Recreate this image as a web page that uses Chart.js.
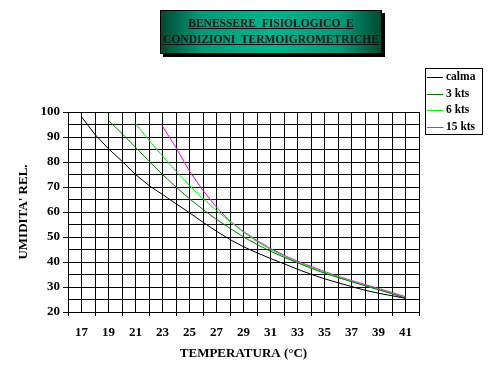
<!DOCTYPE html>
<html>
<head>
<meta charset="utf-8">
<script src="https://cdn.jsdelivr.net/npm/chart.js@4"></script>
<style>
  body { margin: 0; background: #fff; }
  #wrap { position: relative; width: 503px; height: 380px; }
  #titleBox {
    position: absolute; left: 160px; top: 10px; width: 220px; height: 38px;
    border: 1px solid #000;
    box-shadow: 3px 3px 0 #000;
    background: linear-gradient(to right, #004a30 0%, #009a78 18%, #00b48e 50%, #009a78 82%, #004a30 100%);
    font: bold 11.5px "Liberation Serif", "Times New Roman", serif;
    color: #111; text-align: center; line-height: 16px; padding-top: 4px; box-sizing: content-box;
  }
  #titleBox div { white-space: pre; text-decoration: underline; }
</style>
</head>
<body>
<div id="wrap">
  <canvas id="chart" width="503" height="380"></canvas>
  <div id="titleBox"><div>BENESSERE  FISIOLOGICO  E</div><div>CONDIZIONI  TERMOIGROMETRICHE</div></div>
</div>
<script>
// temperatures (°C)
const temperature = [17, 18, 19, 20, 21, 22, 23, 24, 25, 26, 27, 28, 29, 30, 31, 32, 33, 34, 35, 36, 37, 38, 39, 40, 41];

// relative humidity per wind speed (null = curve not drawn there)
const calma = [98.1, 91, 85.3, 80.3, 75, 70.6, 67, 63.3, 59.7, 55.9, 52.3, 49, 46.1, 43.7, 41.4, 39.3, 37.1, 35.1, 33.3, 31.7, 30.2, 28.7, 27.5, 26.5, 25.5];
const kts3 = [null, null, 96.6, 91.4, 85.9, 80.3, 75, 70, 65.3, 61, 57, 53.5, 50, 47, 44.3, 41.9, 39.7, 37.5, 35.5, 33.8, 32.1, 30.5, 28.9, 27.3, 25.5];
const kts6 = [null, null, null, null, 95.3, 88.7, 82.3, 76.3, 70.6, 65.3, 60.6, 56.1, 51.9, 48.2, 45, 42.3, 39.9, 37.8, 35.9, 34, 32.3, 30.6, 29, 27.4, 25.7];
const kts15 = [null, null, null, null, null, null, 94.3, 85.7, 76.3, 68.6, 61.9, 56.3, 52.2, 48.6, 45.4, 42.7, 40.3, 38.2, 36.2, 34.3, 32.6, 31, 29.4, 27.8, 26.1];

const seriesNames = ['calma', '3 kts', '6 kts', '15 kts'];
const seriesColors = ['#000000', '#008000', '#00ff00', '#ff00ff'];
const seriesValues = [calma, kts3, kts6, kts15];

const serif = '"Liberation Serif", "Times New Roman", serif';

function toPoints(values) {
    return temperature.map((t, i) => ({ x: t, y: values[i] }));
}

const datasets = seriesValues.map((vals, i) => ({
    label: seriesNames[i],
    data: toPoints(vals),
    borderColor: seriesColors[i],
    backgroundColor: seriesColors[i],
    borderWidth: 1,
    pointRadius: 0,
    tension: 0,
    fill: false
}));

// legend box drawn at the right, like the original
const boxLegend = {
    id: 'boxLegend',
    afterDraw(chart) {
        const ctx = chart.ctx;
        ctx.save();
        ctx.fillStyle = '#fff';
        ctx.fillRect(425, 68, 57, 66);
        ctx.strokeStyle = '#000';
        ctx.lineWidth = 1;
        ctx.strokeRect(425.5, 68.5, 57, 66);
        ctx.font = 'bold 11.5px ' + serif;
        ctx.textBaseline = 'middle';
        chart.data.datasets.forEach((ds, i) => {
            const y = Math.round(77 + i * 16.7) + 0.5;
            ctx.strokeStyle = ds.borderColor;
            ctx.beginPath();
            ctx.moveTo(427, y);
            ctx.lineTo(443, y);
            ctx.stroke();
            ctx.fillStyle = '#000';
            ctx.fillText(ds.label, 446, y);
        });
        ctx.restore();
    }
};

new Chart(document.getElementById('chart'), {
    type: 'line',
    data: { datasets: datasets },
    plugins: [boxLegend],
    options: {
        responsive: false,
        animation: false,
        layout: { padding: { top: 112, right: 84, left: 0, bottom: 0 } },
        plugins: {
            legend: { display: false },
            tooltip: { enabled: false }
        },
        scales: {
            x: {
                type: 'linear',
                min: 16,
                max: 42,
                afterFit: s => { s.height = 68; },
                ticks: {
                    stepSize: 1,
                    maxTicksLimit: 100,
                    autoSkip: false,
                    maxRotation: 0,
                    padding: 9,
                    color: '#000',
                    font: { family: serif, size: 13, weight: 'bold' },
                    callback: v => (v % 2 === 1 ? v : '')
                },
                grid: {
                    color: '#000',
                    lineWidth: 1,
                    tickLength: 4,
                    tickColor: c => (c.tick && c.tick.value % 2 === 0 ? '#000' : 'rgba(0,0,0,0)')
                },
                border: { color: '#000' },
                title: {
                    display: true,
                    text: 'TEMPERATURA (°C)',
                    color: '#000',
                    font: { family: serif, size: 13, weight: 'bold' },
                    padding: { top: 0, bottom: 19 }
                }
            },
            y: {
                min: 20,
                max: 100,
                afterFit: s => { s.width = 68; },
                ticks: {
                    stepSize: 5,
                    maxTicksLimit: 100,
                    autoSkip: false,
                    padding: 3,
                    color: '#000',
                    font: { family: serif, size: 13, weight: 'bold' },
                    callback: v => (v % 10 === 0 ? v : '')
                },
                grid: {
                    color: '#000',
                    lineWidth: 1,
                    tickLength: 5,
                    tickColor: c => (c.tick && c.tick.value % 10 === 0 ? '#000' : 'rgba(0,0,0,0)')
                },
                border: { color: '#000' },
                title: {
                    display: true,
                    text: "UMIDITA' REL.",
                    color: '#000',
                    font: { family: serif, size: 13, weight: 'bold' },
                    padding: { top: 16, bottom: 0 }
                }
            }
        }
    }
});
</script>
</body>
</html>
